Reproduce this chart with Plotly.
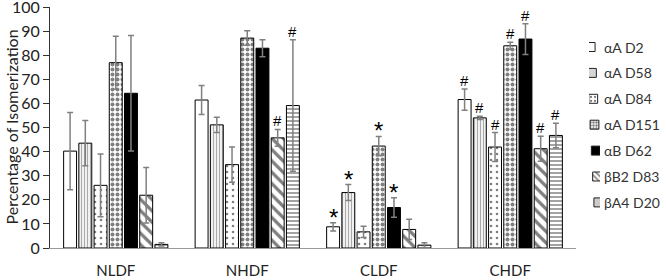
import plotly.graph_objects as go

categories = ["NLDF", "NHDF", "CLDF", "CHDF"]
series_names = ["αA D2", "αA D58", "αA D84", "αA D151", "αB D62", "βB2 D83", "βA4 D20"]

# values per series across the 4 categories
v_aA_D2 = [40.2, 61.4, 8.8, 61.6]
v_aA_D58 = [43.5, 51.1, 23.0, 54.0]
v_aA_D84 = [26.0, 34.6, 6.7, 41.9]
v_aA_D151 = [76.9, 87.1, 42.3, 83.9]
v_aB_D62 = [64.2, 82.9, 16.8, 86.7]
v_bB2_D83 = [21.9, 45.7, 7.7, 41.2]
v_bA4_D20 = [1.5, 59.1, 1.2, 46.7]

e_aA_D2 = [16.0, 6.0, 1.7, 4.4]
e_aA_D58 = [9.4, 3.2, 3.3, 0.7]
e_aA_D84 = [13.0, 7.3, 2.3, 6.0]
e_aA_D151 = [11.0, 3.0, 4.0, 1.5]
e_aB_D62 = [24.0, 3.5, 4.0, 6.4]
e_bB2_D83 = [11.5, 3.5, 4.2, 5.2]
e_bA4_D20 = [0.7, 27.3, 1.0, 5.1]

marks_aA_D2 = ["", "", "*", "#"]
marks_aA_D58 = ["", "", "*", "#"]
marks_aA_D84 = ["", "", "", "#"]
marks_aA_D151 = ["", "", "*", "#"]
marks_aB_D62 = ["", "", "*", "#"]
marks_bB2_D83 = ["", "#", "", "#"]
marks_bA4_D20 = ["", "#", "", "#"]

y_ticks = [0, 10, 20, 30, 40, 50, 60, 70, 80, 90, 100]
y_title = "Percentage of Isomerization"

values = [v_aA_D2, v_aA_D58, v_aA_D84, v_aA_D151, v_aB_D62, v_bB2_D83, v_bA4_D20]
errors = [e_aA_D2, e_aA_D58, e_aA_D84, e_aA_D151, e_aB_D62, e_bB2_D83, e_bA4_D20]
marks = [marks_aA_D2, marks_aA_D58, marks_aA_D84, marks_aA_D151, marks_aB_D62, marks_bB2_D83, marks_bA4_D20]

styles = [
    dict(color="white", pattern=dict(shape="")),
    dict(color="white", pattern=dict(shape="|", fgcolor="#555555", bgcolor="white", size=3, solidity=0.45)),
    dict(color="white", pattern=dict(shape=".", fgcolor="black", bgcolor="white", size=6, solidity=0.15)),
    dict(color="white", pattern=dict(shape=".", fgcolor="black", bgcolor="white", size=5, solidity=0.5)),
    dict(color="black", pattern=dict(shape="")),
    dict(color="white", pattern=dict(shape="\\", fgcolor="black", bgcolor="white", size=8, solidity=0.4)),
    dict(color="white", pattern=dict(shape="-", fgcolor="#333333", bgcolor="white", size=4, solidity=0.45)),
]
legend_styles = [
    dict(color="white", pattern=dict(shape="")),
    dict(color="white", pattern=dict(shape="|", fgcolor="#555555", bgcolor="white", size=2, solidity=0.5)),
    dict(color="white", pattern=dict(shape=".", fgcolor="black", bgcolor="white", size=4, solidity=0.25)),
    dict(color="white", pattern=dict(shape=".", fgcolor="black", bgcolor="white", size=3, solidity=0.5)),
    dict(color="black", pattern=dict(shape="")),
    dict(color="white", pattern=dict(shape="\\", fgcolor="black", bgcolor="white", size=4, solidity=0.4)),
    dict(color="white", pattern=dict(shape="-", fgcolor="#333333", bgcolor="white", size=2, solidity=0.5)),
]

# ---- layout geometry (pixels) ----
W, H = 666, 280
ML, MR, MT, MB = 50, 4, 7, 32
PLOT_RIGHT = 576          # right end of the category axis
SW_L, SW_R = 589, 600     # legend swatch area horizontal extent
TXT_X = 602               # legend text left
LEG_TOP, LEG_STEP, SW_H = 47, 25.9, 9

paper_w = W - ML - MR
plot_h = H - MT - MB

bargap = 0.19
n = len(series_names)
xs = list(range(len(categories)))
FONT = "Lato"

fig = go.Figure()
annotations = []
for i, name in enumerate(series_names):
    st = styles[i]
    fig.add_trace(go.Bar(
        name=name, x=xs, y=values[i], showlegend=False,
        marker=dict(color=st["color"], pattern=st["pattern"], line=dict(color="black", width=1)),
        error_y=dict(type="data", array=errors[i], visible=True, color="#808080", thickness=1.5, width=3),
    ))
    slot = (1 - bargap) / n
    for g in xs:
        m = marks[i][g]
        if m:
            annotations.append(dict(
                x=g + (i - (n - 1) / 2) * slot, y=values[i][g] + errors[i][g],
                xref="x", yref="y", text=m, showarrow=False, yanchor="bottom",
                font=dict(size=15 if m == "#" else 24, color="black", family="Liberation Sans"),
                yshift=-2 if m == "#" else -10,
            ))

# custom legend: swatches on an auxiliary axis measured in pixels from the top of the plot area
for i, name in enumerate(series_names):
    ls = legend_styles[i]
    cy = LEG_TOP + i * LEG_STEP - MT
    fig.add_trace(go.Bar(
        x=[0], y=[SW_H], base=[cy - SW_H / 2], width=[0.8], xaxis="x2", yaxis="y2",
        showlegend=False, hoverinfo="skip",
        marker=dict(color=ls["color"], pattern=ls["pattern"], line=dict(color="#222222", width=1)),
    ))
    annotations.append(dict(
        text=name, xref="paper", yref="y2", x=(TXT_X - ML) / paper_w, y=cy,
        xanchor="left", yanchor="middle", showarrow=False,
        font=dict(size=14, color="#333333", family=FONT),
    ))

annotations.append(dict(
    text=y_title, xref="paper", yref="paper", x=(11 - ML) / paper_w, y=0.5, xanchor="center", yanchor="middle",
    textangle=-90, showarrow=False, font=dict(size=16, color="#222222", family=FONT),
))

fig.update_layout(
    width=W, height=H,
    margin=dict(l=ML, r=MR, t=MT, b=MB),
    paper_bgcolor="white", plot_bgcolor="white",
    barmode="group", bargap=bargap, bargroupgap=0.15,
    font=dict(family=FONT, color="#333333"),
    showlegend=False,
    annotations=annotations,
    xaxis=dict(
        domain=[0, (PLOT_RIGHT - ML) / paper_w],
        tickvals=xs, ticktext=categories, range=[-0.5, 3.5],
        showline=True, linecolor="#999999", linewidth=1, ticks="", showgrid=False,
        tickfont=dict(size=15, color="#222222", family=FONT), ticklabelstandoff=9, zeroline=False,
        automargin=False, ticklabeloverflow="allow",
    ),
    yaxis=dict(
        range=[0, 100], tickvals=y_ticks, showline=True, linecolor="#333333", linewidth=1,
        ticks="outside", ticklen=6, tickcolor="#333333", showgrid=False, zeroline=False,
        tickfont=dict(size=16, color="#222222", family=FONT), automargin=False, ticklabeloverflow="allow",
    ),
    xaxis2=dict(
        domain=[(SW_L - ML) / paper_w, (SW_R - ML) / paper_w], range=[-0.5, 0.5],
        visible=False, fixedrange=True, anchor="y2",
    ),
    yaxis2=dict(
        domain=[0, 1], range=[plot_h, 0], visible=False, fixedrange=True, anchor="x2",
    ),
)

fig.write_html("out.html", config={"displayModeBar": False},
               post_script="document.body.style.margin='0';document.body.style.padding='0';")
